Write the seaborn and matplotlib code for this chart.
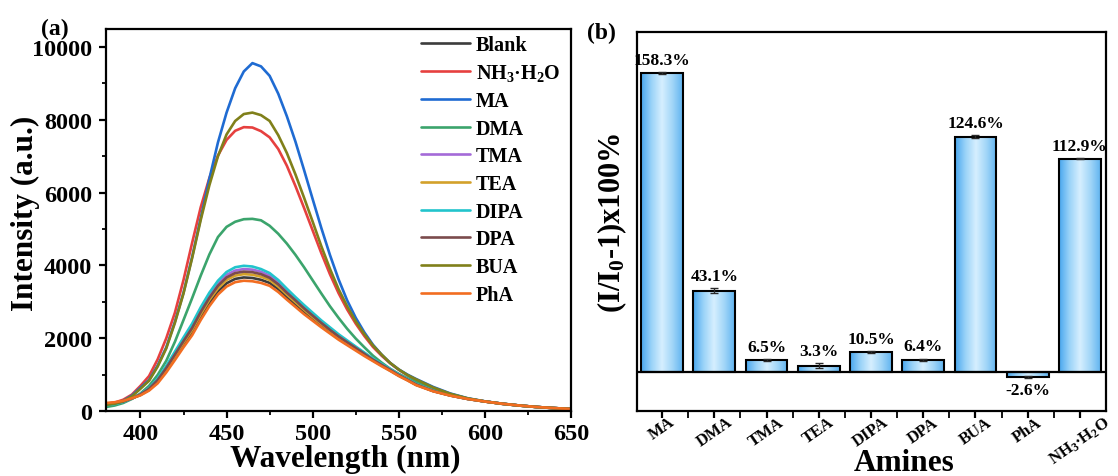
import numpy as np
import pandas as pd
import matplotlib
matplotlib.use("Agg")
import matplotlib.pyplot as plt
import seaborn as sns
from matplotlib.ticker import MultipleLocator, FixedLocator
from matplotlib.colors import LinearSegmentedColormap

# ---------------- (a) emission spectra ----------------
wavelength = [380, 385, 390, 395, 400, 405, 410, 415, 420, 425, 430, 435, 440, 445,
              450, 455, 460, 465, 470, 475, 480, 485, 490, 495, 500, 505, 510, 515,
              520, 525, 530, 535, 540, 545, 550, 555, 560, 570, 580, 590, 600, 610,
              620, 630, 640, 650]

blank = [200, 225, 270, 345, 440, 580, 800, 1110, 1460, 1820, 2160, 2590, 2970, 3290,
         3510, 3630, 3670, 3655, 3605, 3520, 3350, 3130, 2930, 2720, 2530, 2350, 2170, 2000,
         1840, 1690, 1540, 1390, 1250, 1110, 970, 850, 720, 545, 425, 330, 260, 200,
         150, 110, 80, 55]
nh3 = [200, 230, 310, 450, 690, 960, 1420, 2000, 2700, 3600, 4620, 5600, 6400, 7020,
       7450, 7700, 7800, 7790, 7690, 7520, 7200, 6740, 6180, 5580, 4960, 4340, 3760, 3240,
       2790, 2400, 2060, 1760, 1520, 1310, 1130, 980, 850, 630, 465, 340, 260, 195,
       148, 108, 78, 54]
ma = [180, 210, 280, 420, 640, 850, 1250, 1750, 2450, 3250, 4230, 5300, 6380, 7380,
      8200, 8870, 9330, 9560, 9470, 9210, 8720, 8100, 7400, 6620, 5820, 5030, 4290, 3620,
      3040, 2560, 2160, 1820, 1550, 1320, 1140, 1000, 880, 660, 480, 350, 265, 200,
      150, 110, 80, 55]
dma = [110, 150, 220, 330, 480, 690, 990, 1380, 1900, 2500, 3100, 3720, 4300, 4780,
       5060, 5200, 5270, 5280, 5240, 5090, 4870, 4600, 4290, 3950, 3590, 3230, 2880, 2560,
       2260, 1990, 1750, 1520, 1330, 1160, 1020, 900, 800, 610, 460, 340, 260, 198,
       148, 108, 78, 54]
tma = [170, 200, 255, 345, 460, 620, 870, 1210, 1590, 1970, 2340, 2780, 3170, 3500,
       3740, 3860, 3900, 3885, 3825, 3720, 3540, 3300, 3080, 2860, 2650, 2450, 2260, 2070,
       1910, 1745, 1585, 1420, 1280, 1140, 990, 865, 735, 555, 428, 332, 262, 200,
       150, 110, 80, 55]
tea = [190, 215, 265, 345, 450, 600, 830, 1150, 1510, 1880, 2230, 2660, 3050, 3370,
       3600, 3720, 3760, 3745, 3690, 3600, 3420, 3200, 2990, 2780, 2580, 2390, 2210, 2030,
       1870, 1710, 1560, 1400, 1260, 1120, 980, 855, 725, 550, 425, 330, 260, 200,
       150, 110, 80, 55]
dipa = [160, 190, 250, 345, 465, 630, 890, 1240, 1630, 2020, 2400, 2850, 3250, 3580,
        3820, 3950, 3990, 3970, 3900, 3790, 3600, 3360, 3130, 2910, 2700, 2490, 2300, 2110,
        1940, 1770, 1605, 1440, 1295, 1150, 1000, 875, 740, 560, 430, 333, 262, 200,
        150, 110, 80, 55]
dpa = [180, 210, 260, 345, 455, 610, 850, 1180, 1550, 1920, 2280, 2720, 3110, 3440,
       3670, 3790, 3830, 3815, 3760, 3660, 3480, 3250, 3040, 2820, 2620, 2420, 2230, 2050,
       1890, 1730, 1570, 1410, 1270, 1130, 985, 860, 730, 550, 426, 331, 261, 200,
       150, 110, 80, 55]
bua = [170, 200, 270, 400, 610, 830, 1220, 1720, 2420, 3230, 4200, 5250, 6200, 7000,
       7600, 7970, 8160, 8200, 8130, 7970, 7580, 7090, 6500, 5860, 5200, 4530, 3910, 3350,
       2880, 2460, 2110, 1800, 1550, 1320, 1140, 990, 870, 645, 470, 345, 262, 198,
       150, 110, 79, 55]
pha = [220, 240, 280, 350, 430, 560, 760, 1060, 1400, 1750, 2080, 2500, 2880, 3200,
       3420, 3540, 3580, 3565, 3520, 3440, 3270, 3060, 2860, 2660, 2480, 2300, 2130, 1960,
       1810, 1660, 1510, 1370, 1230, 1100, 960, 840, 710, 540, 420, 330, 260, 200,
       150, 110, 80, 55]

samples = ["Blank", "NH$_3$·H$_2$O", "MA", "DMA", "TMA", "TEA", "DIPA", "DPA", "BUA", "PhA"]
series = [blank, nh3, ma, dma, tma, tea, dipa, dpa, bua, pha]
line_colors = ["#3c3c3c", "#e6403f", "#1f6bd2", "#3ba46c", "#a46ad8",
               "#d3a12a", "#22c4cc", "#7b4b4d", "#80801a", "#f26d21"]

# ---------------- (b) response of each amine ----------------
amines = ["MA", "DMA", "TMA", "TEA", "DIPA", "DPA", "BUA", "PhA", "NH$_3$·H$_2$O"]
response = [158.3, 43.1, 6.5, 3.3, 10.5, 6.4, 124.6, -2.6, 112.9]
response_err = [0.6, 1.2, 0.5, 1.4, 0.5, 0.7, 0.9, 0.4, 0.3]

sns.set_theme(style="ticks")
plt.rcParams.update({
    "font.family": ["Liberation Serif", "DejaVu Serif"],
    "font.weight": "bold",
    "axes.labelweight": "bold",
    "mathtext.fontset": "custom",
    "mathtext.rm": "Liberation Serif:bold",
    "mathtext.it": "Liberation Serif:italic:bold",
    "mathtext.bf": "Liberation Serif:bold",
    "axes.linewidth": 1.6,
    "axes.edgecolor": "black",
    "xtick.color": "black",
    "ytick.color": "black",
    "text.color": "black",
    "axes.labelcolor": "black",
})

fig = plt.figure(figsize=(11.18, 4.77), dpi=100)
ax1 = fig.add_axes([0.0948, 0.1363, 0.416, 0.801])
ax2 = fig.add_axes([0.5698, 0.1363, 0.4195, 0.7946])

# spectra in long form
rows = []
for name, vals in zip(samples, series):
    for w, v in zip(wavelength, vals):
        rows.append({"Wavelength": w, "Intensity": v, "Sample": name})
spec = pd.DataFrame(rows)

sns.lineplot(data=spec, x="Wavelength", y="Intensity", hue="Sample",
             hue_order=samples, palette=dict(zip(samples, line_colors)),
             estimator=None, sort=False, linewidth=1.9, ax=ax1)

ax1.set_xlim(380, 650)
ax1.set_ylim(0, 10500)
ax1.xaxis.set_major_locator(MultipleLocator(50))
ax1.xaxis.set_minor_locator(MultipleLocator(25))
ax1.yaxis.set_major_locator(MultipleLocator(2000))
ax1.yaxis.set_minor_locator(MultipleLocator(1000))
ax1.tick_params(which="major", direction="out", length=5, width=1.6, labelsize=17.5)
ax1.tick_params(axis="x", which="major", pad=4)
ax1.tick_params(axis="y", which="major", pad=5)
ax1.tick_params(which="minor", direction="out", length=3, width=1.3)
ax1.set_xlabel("Wavelength (nm)", fontsize=22.5)
ax1.xaxis.set_label_coords(0.514, -0.085)
ax1.set_ylabel("Intensity (a.u.)", fontsize=22.5)
ax1.yaxis.set_label_coords(-0.142, 0.52)
for s in ax1.spines.values():
    s.set_linewidth(1.6)

handles, labels = ax1.get_legend_handles_labels()
ax1.legend(handles, labels, loc="upper left", bbox_to_anchor=(0.672, 0.99),
           frameon=False, fontsize=14.5, handlelength=2.45, handletextpad=0.3,
           labelspacing=0.38, borderpad=0.1, borderaxespad=0)
ax1.text(-0.11, 1.0, "(a)", transform=ax1.transAxes, fontsize=17,
         fontweight="bold", ha="center", va="center")

# bar chart
sns.barplot(x=amines, y=response, color="#7cc4f4", errorbar=None, width=0.8,
            edgecolor="black", linewidth=1.5, ax=ax2, zorder=3)
ax2.set_xlim(-0.48, 8.5)
ax2.set_ylim(-20.6, 180)

bar_cmap = LinearSegmentedColormap.from_list(
    "barfill", ["#48a6ee", "#9ad3f8", "#d6efff", "#a2d6f8", "#5fb3f0"])
grad = np.linspace(0, 1, 256)[None, :]
for patch in list(ax2.patches):
    x0, w = patch.get_x(), patch.get_width()
    y0, h = patch.get_y(), patch.get_height()
    ylo, yhi = min(y0, y0 + h), max(y0, y0 + h)
    ax2.imshow(grad, cmap=bar_cmap, extent=[x0, x0 + w, ylo, yhi],
               aspect="auto", zorder=2.5, clip_path=patch, clip_on=True,
               interpolation="bilinear")
    patch.set_facecolor("none")
ax2.set_xlim(-0.48, 8.5)
ax2.set_ylim(-20.6, 180)

pos = np.arange(len(amines))
ax2.errorbar(pos, response, yerr=response_err, fmt="none", ecolor="#2a2a2a",
             elinewidth=1.0, capsize=3, capthick=1.0, zorder=4)
ax2.axhline(0, color="black", linewidth=1.6, zorder=4)

for xi, v, e in zip(pos, response, response_err):
    if v >= 0:
        ax2.annotate(f"{v}%", (xi, v + e), xytext=(0, 3), textcoords="offset points",
                     ha="center", va="bottom", fontsize=12.5, fontweight="bold")
    else:
        ax2.annotate(f"{v}%", (xi, v - e), xytext=(0, -3), textcoords="offset points",
                     ha="center", va="top", fontsize=12.5, fontweight="bold")

ax2.set_yticks([])
ax2.xaxis.set_minor_locator(FixedLocator(np.arange(0.5, 8, 1)))
ax2.tick_params(axis="x", which="major", direction="out", length=5, width=1.6,
                labelsize=12, labelrotation=35, pad=-3)
ax2.tick_params(axis="x", which="minor", direction="out", length=5, width=1.3)
for lbl in ax2.get_xticklabels():
    lbl.set_ha("center")
ax2.set_xlabel("Amines", fontsize=22.5)
ax2.xaxis.set_label_coords(0.57, -0.097)
ax2.set_ylabel("(I/I$_0$-1)x100%", fontsize=22, labelpad=6)
for s in ax2.spines.values():
    s.set_linewidth(1.6)
ax2.text(-0.075, 1.0, "(b)", transform=ax2.transAxes, fontsize=17,
         fontweight="bold", ha="center", va="center")

fig.savefig("out.png", dpi=100)
